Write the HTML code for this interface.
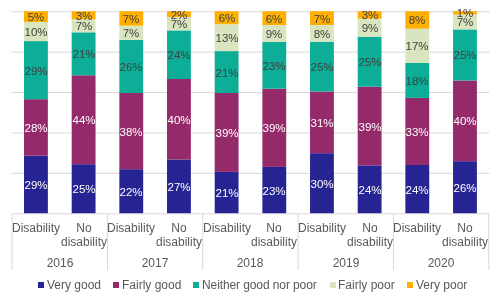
<!DOCTYPE html>
<html><head><meta charset="utf-8"><style>
html,body{margin:0;padding:0;background:#fff;}
body{width:500px;height:301px;position:relative;overflow:hidden;font-family:"Liberation Sans",sans-serif;}
.l,.c,.lt{will-change:transform;}
svg{position:absolute;left:0;top:0;}
.l{position:absolute;width:40px;height:14px;line-height:14px;text-align:center;font-size:11.5px;}
.c{position:absolute;width:60px;text-align:center;font-size:12px;line-height:14px;color:#595959;}
.lt{position:absolute;top:277px;font-size:12px;line-height:16px;color:#595959;white-space:nowrap;}
.sq{position:absolute;top:282px;width:6px;height:6px;}
</style></head><body>
<svg width="500" height="301"><line x1="11.60" x2="489.30" y1="11.75" y2="11.75" stroke="#D9D9D9" stroke-width="1"/><line x1="11.60" x2="489.30" y1="52.15" y2="52.15" stroke="#D9D9D9" stroke-width="1"/><line x1="11.60" x2="489.30" y1="92.55" y2="92.55" stroke="#D9D9D9" stroke-width="1"/><line x1="11.60" x2="489.30" y1="132.95" y2="132.95" stroke="#D9D9D9" stroke-width="1"/><line x1="11.60" x2="489.30" y1="173.35" y2="173.35" stroke="#D9D9D9" stroke-width="1"/><line x1="11.60" x2="489.30" y1="213.75" y2="213.75" stroke="#D9D9D9" stroke-width="1"/><rect x="24.02" y="155.70" width="23.84" height="57.50" fill="#262492"/><rect x="24.02" y="99.20" width="23.84" height="56.50" fill="#952A6A"/><rect x="24.02" y="41.10" width="23.84" height="58.10" fill="#0CAE97"/><rect x="24.02" y="22.00" width="23.84" height="19.10" fill="#D8E5BE"/><rect x="24.02" y="11.25" width="23.84" height="10.75" fill="#FFAF00"/><rect x="71.69" y="164.20" width="23.84" height="49.00" fill="#262492"/><rect x="71.69" y="75.30" width="23.84" height="88.90" fill="#952A6A"/><rect x="71.69" y="32.30" width="23.84" height="43.00" fill="#0CAE97"/><rect x="71.69" y="19.30" width="23.84" height="13.00" fill="#D8E5BE"/><rect x="71.69" y="11.25" width="23.84" height="8.05" fill="#FFAF00"/><rect x="119.36" y="169.20" width="23.84" height="44.00" fill="#262492"/><rect x="119.36" y="93.00" width="23.84" height="76.20" fill="#952A6A"/><rect x="119.36" y="39.90" width="23.84" height="53.10" fill="#0CAE97"/><rect x="119.36" y="25.70" width="23.84" height="14.20" fill="#D8E5BE"/><rect x="119.36" y="11.25" width="23.84" height="14.45" fill="#FFAF00"/><rect x="167.03" y="159.50" width="23.84" height="53.70" fill="#262492"/><rect x="167.03" y="79.00" width="23.84" height="80.50" fill="#952A6A"/><rect x="167.03" y="30.40" width="23.84" height="48.60" fill="#0CAE97"/><rect x="167.03" y="17.00" width="23.84" height="13.40" fill="#D8E5BE"/><rect x="167.03" y="11.25" width="23.84" height="5.75" fill="#FFAF00"/><rect x="214.70" y="171.90" width="23.84" height="41.30" fill="#262492"/><rect x="214.70" y="93.00" width="23.84" height="78.90" fill="#952A6A"/><rect x="214.70" y="51.10" width="23.84" height="41.90" fill="#0CAE97"/><rect x="214.70" y="24.20" width="23.84" height="26.90" fill="#D8E5BE"/><rect x="214.70" y="11.25" width="23.84" height="12.95" fill="#FFAF00"/><rect x="262.37" y="166.90" width="23.84" height="46.30" fill="#262492"/><rect x="262.37" y="88.70" width="23.84" height="78.20" fill="#952A6A"/><rect x="262.37" y="41.90" width="23.84" height="46.80" fill="#0CAE97"/><rect x="262.37" y="25.00" width="23.84" height="16.90" fill="#D8E5BE"/><rect x="262.37" y="11.25" width="23.84" height="13.75" fill="#FFAF00"/><rect x="310.04" y="153.20" width="23.84" height="60.00" fill="#262492"/><rect x="310.04" y="91.50" width="23.84" height="61.70" fill="#952A6A"/><rect x="310.04" y="41.70" width="23.84" height="49.80" fill="#0CAE97"/><rect x="310.04" y="25.00" width="23.84" height="16.70" fill="#D8E5BE"/><rect x="310.04" y="11.25" width="23.84" height="13.75" fill="#FFAF00"/><rect x="357.71" y="165.40" width="23.84" height="47.80" fill="#262492"/><rect x="357.71" y="86.70" width="23.84" height="78.70" fill="#952A6A"/><rect x="357.71" y="36.70" width="23.84" height="50.00" fill="#0CAE97"/><rect x="357.71" y="18.70" width="23.84" height="18.00" fill="#D8E5BE"/><rect x="357.71" y="11.25" width="23.84" height="7.45" fill="#FFAF00"/><rect x="405.38" y="165.00" width="23.84" height="48.20" fill="#262492"/><rect x="405.38" y="97.90" width="23.84" height="67.10" fill="#952A6A"/><rect x="405.38" y="62.90" width="23.84" height="35.00" fill="#0CAE97"/><rect x="405.38" y="28.70" width="23.84" height="34.20" fill="#D8E5BE"/><rect x="405.38" y="11.25" width="23.84" height="17.45" fill="#FFAF00"/><rect x="453.05" y="161.20" width="23.84" height="52.00" fill="#262492"/><rect x="453.05" y="80.50" width="23.84" height="80.70" fill="#952A6A"/><rect x="453.05" y="29.40" width="23.84" height="51.10" fill="#0CAE97"/><rect x="453.05" y="14.50" width="23.84" height="14.90" fill="#D8E5BE"/><rect x="453.05" y="11.25" width="23.84" height="3.25" fill="#FFAF00"/><line x1="12.10" x2="12.10" y1="213.75" y2="270" stroke="#D9D9D9" stroke-width="1"/><line x1="107.44" x2="107.44" y1="213.75" y2="270" stroke="#D9D9D9" stroke-width="1"/><line x1="202.78" x2="202.78" y1="213.75" y2="270" stroke="#D9D9D9" stroke-width="1"/><line x1="298.12" x2="298.12" y1="213.75" y2="270" stroke="#D9D9D9" stroke-width="1"/><line x1="393.46" x2="393.46" y1="213.75" y2="270" stroke="#D9D9D9" stroke-width="1"/><line x1="488.80" x2="488.80" y1="213.75" y2="270" stroke="#D9D9D9" stroke-width="1"/></svg>
<div class="l" style="left:15.94px;top:177.95px;color:#FFFFFF">29%</div><div class="l" style="left:15.94px;top:120.95px;color:#FFFFFF">28%</div><div class="l" style="left:15.94px;top:63.65px;color:#404040">29%</div><div class="l" style="left:15.94px;top:25.05px;color:#404040">10%</div><div class="l" style="left:15.94px;top:10.12px;color:#404040">5%</div><div class="l" style="left:63.60px;top:182.20px;color:#FFFFFF">25%</div><div class="l" style="left:63.60px;top:113.25px;color:#FFFFFF">44%</div><div class="l" style="left:63.60px;top:47.30px;color:#404040">21%</div><div class="l" style="left:63.60px;top:19.30px;color:#404040">7%</div><div class="l" style="left:63.60px;top:8.78px;color:#404040">3%</div><div class="l" style="left:111.28px;top:184.70px;color:#FFFFFF">22%</div><div class="l" style="left:111.28px;top:124.60px;color:#FFFFFF">38%</div><div class="l" style="left:111.28px;top:59.95px;color:#404040">26%</div><div class="l" style="left:111.28px;top:26.30px;color:#404040">7%</div><div class="l" style="left:111.28px;top:11.98px;color:#404040">7%</div><div class="l" style="left:158.94px;top:179.85px;color:#FFFFFF">27%</div><div class="l" style="left:158.94px;top:112.75px;color:#FFFFFF">40%</div><div class="l" style="left:158.94px;top:48.20px;color:#404040">24%</div><div class="l" style="left:158.94px;top:17.20px;color:#404040">7%</div><div class="l" style="left:158.94px;top:7.62px;color:#404040">2%</div><div class="l" style="left:206.62px;top:186.05px;color:#FFFFFF">21%</div><div class="l" style="left:206.62px;top:125.95px;color:#FFFFFF">39%</div><div class="l" style="left:206.62px;top:65.55px;color:#404040">21%</div><div class="l" style="left:206.62px;top:31.15px;color:#404040">13%</div><div class="l" style="left:206.62px;top:11.23px;color:#404040">6%</div><div class="l" style="left:254.29px;top:183.55px;color:#FFFFFF">23%</div><div class="l" style="left:254.29px;top:121.30px;color:#FFFFFF">39%</div><div class="l" style="left:254.29px;top:58.80px;color:#404040">23%</div><div class="l" style="left:254.29px;top:26.95px;color:#404040">9%</div><div class="l" style="left:254.29px;top:11.62px;color:#404040">6%</div><div class="l" style="left:301.96px;top:176.70px;color:#FFFFFF">30%</div><div class="l" style="left:301.96px;top:115.85px;color:#FFFFFF">31%</div><div class="l" style="left:301.96px;top:60.10px;color:#404040">25%</div><div class="l" style="left:301.96px;top:26.85px;color:#404040">8%</div><div class="l" style="left:301.96px;top:11.62px;color:#404040">7%</div><div class="l" style="left:349.63px;top:182.80px;color:#FFFFFF">24%</div><div class="l" style="left:349.63px;top:119.55px;color:#FFFFFF">39%</div><div class="l" style="left:349.63px;top:55.20px;color:#404040">25%</div><div class="l" style="left:349.63px;top:21.20px;color:#404040">9%</div><div class="l" style="left:349.63px;top:8.47px;color:#404040">3%</div><div class="l" style="left:397.30px;top:182.60px;color:#FFFFFF">24%</div><div class="l" style="left:397.30px;top:124.95px;color:#FFFFFF">33%</div><div class="l" style="left:397.30px;top:73.90px;color:#404040">18%</div><div class="l" style="left:397.30px;top:39.30px;color:#404040">17%</div><div class="l" style="left:397.30px;top:13.48px;color:#404040">8%</div><div class="l" style="left:444.97px;top:180.70px;color:#FFFFFF">26%</div><div class="l" style="left:444.97px;top:114.35px;color:#FFFFFF">40%</div><div class="l" style="left:444.97px;top:48.45px;color:#404040">25%</div><div class="l" style="left:444.97px;top:15.45px;color:#404040">7%</div><div class="l" style="left:444.97px;top:6.38px;color:#404040">1%</div>
<div class="c" style="left:5.94px;top:221px">Disability</div>
<div class="c" style="left:53.60px;top:221px">No<br>disability</div>
<div class="c" style="left:101.28px;top:221px">Disability</div>
<div class="c" style="left:148.94px;top:221px">No<br>disability</div>
<div class="c" style="left:196.62px;top:221px">Disability</div>
<div class="c" style="left:244.29px;top:221px">No<br>disability</div>
<div class="c" style="left:291.96px;top:221px">Disability</div>
<div class="c" style="left:339.63px;top:221px">No<br>disability</div>
<div class="c" style="left:387.30px;top:221px">Disability</div>
<div class="c" style="left:434.97px;top:221px">No<br>disability</div>
<div class="c" style="left:29.77px;top:256px">2016</div>
<div class="c" style="left:125.11px;top:256px">2017</div>
<div class="c" style="left:220.45px;top:256px">2018</div>
<div class="c" style="left:315.79px;top:256px">2019</div>
<div class="c" style="left:411.13px;top:256px">2020</div>
<div class="sq" style="left:38px;background:#262492"></div><div class="lt" style="left:46.5px;letter-spacing:0px">Very good</div>
<div class="sq" style="left:113px;background:#952A6A"></div><div class="lt" style="left:121.9px;letter-spacing:0px">Fairly good</div>
<div class="sq" style="left:193px;background:#0CAE97"></div><div class="lt" style="left:201.9px;letter-spacing:-0.1px">Neither good nor poor</div>
<div class="sq" style="left:330px;background:#D8E5BE"></div><div class="lt" style="left:338.1px;letter-spacing:0px">Fairly poor</div>
<div class="sq" style="left:407px;background:#FFAF00"></div><div class="lt" style="left:415.5px;letter-spacing:0px">Very poor</div>
</body></html>
